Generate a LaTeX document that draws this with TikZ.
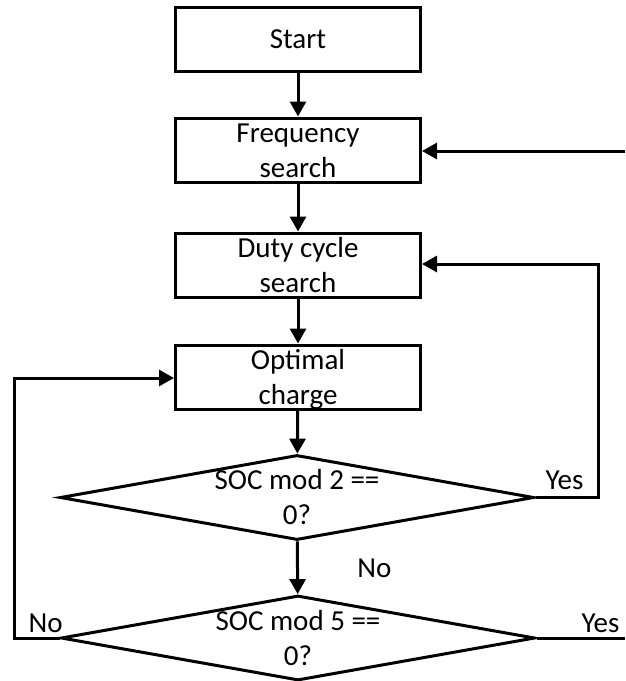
\documentclass[tikz,border=0pt]{standalone}
\usepackage{fontspec}
\setmainfont{Carlito}
\usetikzlibrary{arrows.meta}
\usetikzlibrary{shapes.geometric}

\begin{document}
\begin{tikzpicture}[x=1pt, y=-1pt, font=\fontsize{29}{35}\selectfont,
    procbox/.style={draw, line width=3pt, minimum width=245pt, minimum height=64pt, inner sep=0pt, align=center, text height=54pt, text depth=0pt},
    decision/.style={draw, diamond, aspect=5.6, line width=3pt, minimum width=474pt, minimum height=85pt, inner sep=0pt, align=center, text height=54pt, text depth=0pt},
    flow/.style={line width=3pt, -{Triangle[width=16pt,length=15pt]}},
    wire/.style={line width=3pt}]
          \useasboundingbox (0,0) rectangle (625,681);

          \node [procbox, text height=19pt] (start) at (298,39) {Start}; % first step
          \node [procbox] (freq) at (298,150) {Frequency\\search};
          \node [procbox] (duty) at (298,265) {Duty cycle\\search};
          \node [procbox] (opt) at (298,377) {Optimal\\charge};

          \node [decision] (mod2) at (297,497.5) {SOC mod 2 ==\\0?}; % first test
          \node [decision] (mod5) at (298,638) {SOC mod 5 ==\\0?}; % second test

          \draw [flow] (start) -- (freq);
          \draw [flow] (freq) -- (duty);
          \draw [flow] (duty) -- (opt);
          \draw [flow] (opt) -- (mod2);
          \draw [flow] (mod2) -- (mod5);
          \node [anchor=base] (nomid) at (374.5,577) {No};

          % input from the right
          \coordinate (freqin) at (625,151);
          \draw [flow] (freqin) -- (freqin -| freq.east);

          % loop back to duty cycle
          \coordinate (rightup) at (598,264);
          \draw [flow] (mod2.east) -| (rightup) -- (rightup -| duty.east);
          \node [anchor=base west] (yesup) at (542,489) {Yes};

          % loop back to optimal charge
          \coordinate (leftup) at (14,378);
          \draw [flow] (mod5.west) -| (leftup) -- (leftup -| opt.west);
          \node [anchor=base west] (noleft) at (25,632) {No};

          \coordinate (yesout) at (625,638);
          \draw [wire] (mod5.east) -- (yesout);
          \node [anchor=base west] (yesright) at (578,632) {Yes};
        \end{tikzpicture}
\end{document}
